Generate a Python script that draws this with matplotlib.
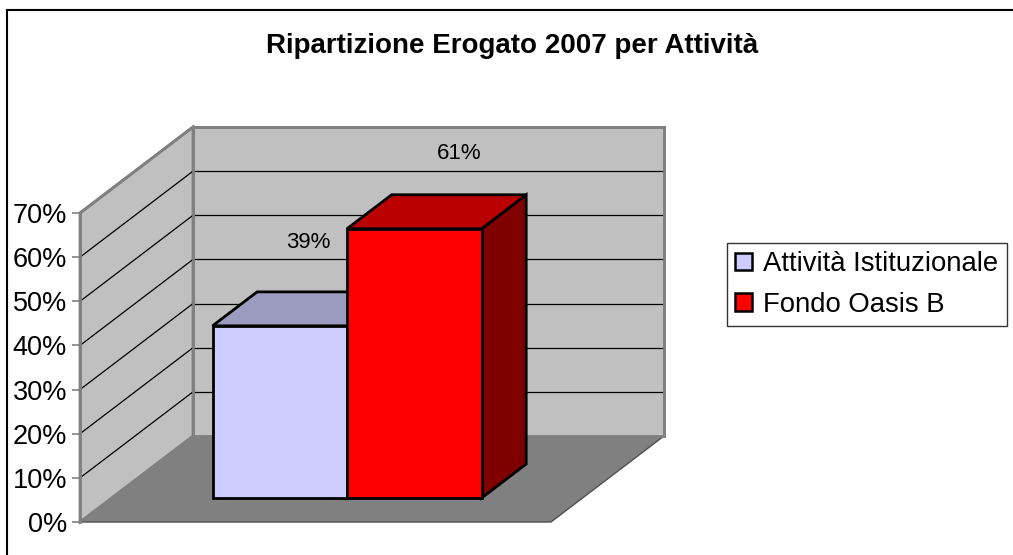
import matplotlib
matplotlib.use("Agg")
import matplotlib.pyplot as plt
from matplotlib.patches import Polygon, Patch
from matplotlib.lines import Line2D

# ---- data ----
title = "Ripartizione Erogato 2007 per Attività"
series_names = ["Attività Istituzionale", "Fondo Oasis B"]
values = [39, 61]
tick_values = [0, 10, 20, 30, 40, 50, 60, 70]
tick_labels = ["0%", "10%", "20%", "30%", "40%", "50%", "60%", "70%"]

# ---- style ----
front_colors = ["#ccccff", "#ff0000"]
top_colors = ["#9c9cc0", "#bb0000"]
side_colors = ["#7a7aa0", "#800000"]
label_offsets = [(-16, 49), (0, 41)]  # pixels from top-back centre of bar

W, H = 1013, 555
fig = plt.figure(figsize=(W / 100, H / 100), dpi=100)
fig.patch.set_facecolor("white")
plt.rcParams["font.family"] = ["Liberation Sans", "DejaVu Sans"]

# axes: front floor left corner at (80,522) px, top of back wall at y=127, right of back wall x=664
ax = fig.add_axes([80 / W, (H - 522) / H, 584 / W, 395 / H])
VMAX = 70
DX = 113 / 471          # depth shift in x units (floor width = 1)
DY = 86 / (309 / 70)     # depth shift in value units
ax.set_xlim(0, 584 / 471)
ax.set_ylim(0, VMAX + DY)
for s in ax.spines.values():
    s.set_visible(False)
ax.patch.set_visible(False)
ax.set_xticks([])
ax.set_yticks(tick_values)
ax.set_yticklabels(tick_labels, fontsize=19.5)
ax.tick_params(axis="y", length=6, width=1.2, color="#808080", pad=3.4)


def P(x, v, d):
    return (x + d * DX, v + d * DY)


def poly(pts, fc, ec, lw, z):
    ax.add_patch(Polygon([P(*p) for p in pts], closed=True, facecolor=fc,
                         edgecolor=ec, linewidth=lw, zorder=z, clip_on=False,
                         joinstyle="miter"))


# floor
poly([(0, 0, 0), (1, 0, 0), (1, 0, 1), (0, 0, 1)], "#808080", "#505050", 1.0, 1)
# left wall
poly([(0, 0, 0), (0, VMAX, 0), (0, VMAX, 1), (0, 0, 1)], "#c0c0c0", "#808080", 2.0, 2)
# back wall
poly([(0, 0, 1), (1, 0, 1), (1, VMAX, 1), (0, VMAX, 1)], "#c0c0c0", "#808080", 2.0, 2)

# gridlines
for v in tick_values[1:-1]:
    a, b = P(0, v, 0), P(0, v, 1)
    ax.plot([a[0], b[0]], [a[1], b[1]], color="black", lw=0.9, zorder=3, clip_on=False)
    a, b = P(0, v, 1), P(1, v, 1)
    ax.plot([a[0], b[0]], [a[1], b[1]], color="black", lw=0.9, zorder=3, clip_on=False)
# wall edges on top of grid
for (p1, p2) in [((0, 0, 0), (0, VMAX, 0)), ((0, 0, 1), (0, VMAX, 1)),
                 ((0, VMAX, 0), (0, VMAX, 1)), ((0, VMAX, 1), (1, VMAX, 1)),
                 ((1, 0, 1), (1, VMAX, 1))]:
    a, b = P(*p1), P(*p2)
    ax.plot([a[0], b[0]], [a[1], b[1]], color="#808080", lw=2, zorder=4,
            clip_on=False, solid_capstyle="projecting")

# bars
bw = 0.2856
d1, d2 = 0.279, 0.674
handles = []
for i, v in enumerate(values):
    x0 = 0.5 - bw + i * bw
    x1 = x0 + bw
    z = 5 + i * 3
    poly([(x1, 0, d1), (x1, 0, d2), (x1, v, d2), (x1, v, d1)], side_colors[i], "black", 2.0, z)
    poly([(x0, v, d1), (x1, v, d1), (x1, v, d2), (x0, v, d2)], top_colors[i], "black", 2.0, z + 1)
    poly([(x0, 0, d1), (x1, 0, d1), (x1, v, d1), (x0, v, d1)], front_colors[i], "black", 2.0, z + 2)
    cx, cy = P((x0 + x1) / 2, v, d2)
    ox, oy = label_offsets[i]
    ax.annotate(f"{v}%", (cx, cy), xytext=(ox * 0.72, oy * 0.72), textcoords="offset points",
                ha="center", va="center", fontsize=16, color="black", zorder=20,
                annotation_clip=False)
    handles.append(Patch(facecolor=front_colors[i], edgecolor="black", linewidth=1.8,
                         label=series_names[i]))

# title
fig.text(512.5 / W, 1 - 53 / H, title, ha="center", va="baseline",
         fontsize=20, fontweight="bold")

# legend
leg = fig.legend(handles=handles, loc="upper left",
                 bbox_to_anchor=(727 / W, 1 - 243 / H), fontsize=19.8,
                 frameon=True, fancybox=False, edgecolor="black",
                 handlelength=0.62, handleheight=0.62, handletextpad=0.4,
                 borderpad=0.3, labelspacing=0.53, borderaxespad=0)
leg.get_frame().set_linewidth(1.0)

# outer border (top and left)
fig.add_artist(Line2D([7 / W, 1], [1 - 10 / H, 1 - 10 / H], transform=fig.transFigure,
                      color="black", lw=1.5))
fig.add_artist(Line2D([7 / W, 7 / W], [0, 1 - 10 / H], transform=fig.transFigure,
                      color="black", lw=1.5))

fig.savefig("out.png", dpi=100)
